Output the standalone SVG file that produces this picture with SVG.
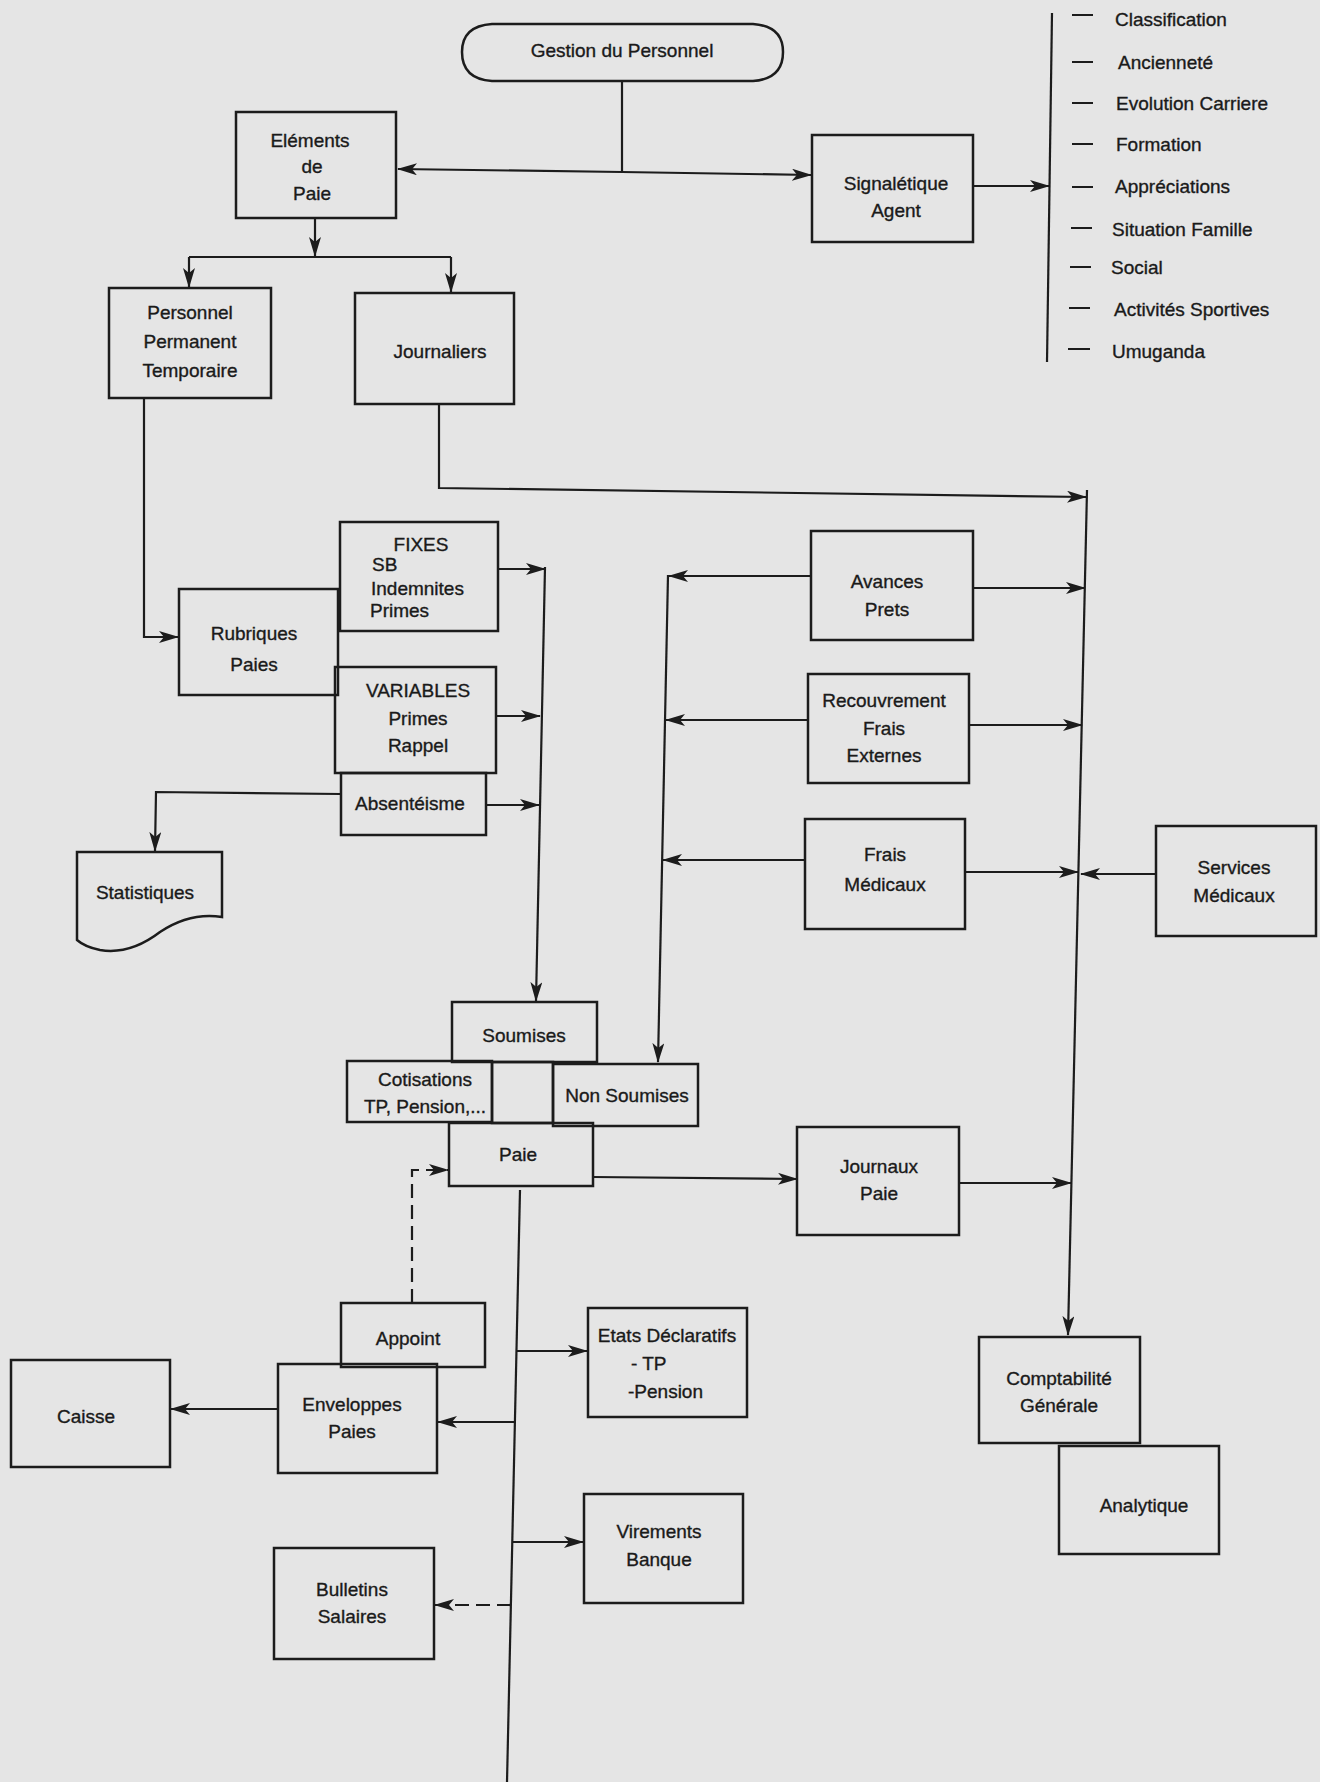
<svg xmlns="http://www.w3.org/2000/svg" width="1320" height="1782" viewBox="0 0 1320 1782">
<defs>
<marker id="ah" markerWidth="20" markerHeight="12" refX="19" refY="6" orient="auto" markerUnits="userSpaceOnUse"><path d="M0,0 L20,6 L0,12 L5,6 Z" fill="#1c1c1c"/></marker>
</defs>
<style>
.b{fill:none;stroke:#1c1c1c;stroke-width:2.5}
.c{fill:none;stroke:#1c1c1c;stroke-width:2.2}
.d{stroke-dasharray:14 7}
text{font-family:"Liberation Sans",Arial,sans-serif;font-size:19px;fill:#1a1a1a;stroke:#1a1a1a;stroke-width:0.35;text-anchor:middle}
.l{text-anchor:start}
</style>
<rect width="1320" height="1782" fill="#e5e5e5"/>

<g id="connectors">
<path class="c" d="M622,81 V172"/>
<path class="c" d="M622,172 L398,169" marker-end="url(#ah)"/>
<path class="c" d="M622,172 L811,175" marker-end="url(#ah)"/>
<path class="c" d="M973,186 L1049,186" marker-end="url(#ah)"/>
<path class="c" d="M315,218 V256" marker-end="url(#ah)"/>
<path class="c" d="M189,257 H451"/>
<path class="c" d="M189,257 V287" marker-end="url(#ah)"/>
<path class="c" d="M451,257 V292" marker-end="url(#ah)"/>
<path class="c" d="M439,404 V488 L1086,497" marker-end="url(#ah)"/>
<path class="c" d="M1087,490 L1068,1335" marker-end="url(#ah)"/>
<path class="c" d="M144,398 V637 H178" marker-end="url(#ah)"/>
<path class="c" d="M498,569 H545" marker-end="url(#ah)"/>
<path class="c" d="M496,716 H540" marker-end="url(#ah)"/>
<path class="c" d="M486,805 H539" marker-end="url(#ah)"/>
<path class="c" d="M545,567 L536,1001" marker-end="url(#ah)"/>
<path class="c" d="M341,794 L156,792 L155,851" marker-end="url(#ah)"/>
<path class="c" d="M811,576 H669" marker-end="url(#ah)"/>
<path class="c" d="M808,720 H666" marker-end="url(#ah)"/>
<path class="c" d="M805,860 H663" marker-end="url(#ah)"/>
<path class="c" d="M668,575 L658,1062" marker-end="url(#ah)"/>
<path class="c" d="M973,588 H1085" marker-end="url(#ah)"/>
<path class="c" d="M969,725 H1082" marker-end="url(#ah)"/>
<path class="c" d="M965,872 H1078" marker-end="url(#ah)"/>
<path class="c" d="M1156,874 H1081" marker-end="url(#ah)"/>
<path class="c" d="M593,1177 L797,1179" marker-end="url(#ah)"/>
<path class="c" d="M959,1183 H1071" marker-end="url(#ah)"/>
<path class="c d" d="M412,1303 V1170 H448" marker-end="url(#ah)"/>
<path class="c" d="M520,1190 L507,1782"/>
<path class="c" d="M516,1351 H587" marker-end="url(#ah)"/>
<path class="c" d="M515,1422 H438" marker-end="url(#ah)"/>
<path class="c" d="M278,1409 H171" marker-end="url(#ah)"/>
<path class="c" d="M512,1542 H583" marker-end="url(#ah)"/>
<path class="c d" d="M511,1605 H435" marker-end="url(#ah)"/>
<path class="c" d="M1052,13 L1047,362"/>
</g>

<g id="gestion">
<path class="b" d="M492,24 H753 Q783,26 783,52 Q783,79 753,81 H492 Q462,79 462,52 Q462,26 492,24 Z"/>
<text x="622" y="57">Gestion du Personnel</text>
</g>
<g id="elements-paie">
<rect class="b" x="236" y="112" width="160" height="106"/>
<text x="310" y="147">Eléments</text><text x="312" y="173">de</text><text x="312" y="200">Paie</text>
</g>
<g id="signaletique">
<rect class="b" x="812" y="135" width="161" height="107"/>
<text x="896" y="190">Signalétique</text><text x="896" y="217">Agent</text>
</g>
<g id="liste-signaletique">
<path class="c" d="M1072,15 H1093 M1072,62 H1093 M1072,103 H1093 M1072,144 H1093 M1072,187 H1093 M1071,228 H1092 M1070,267 H1091 M1069,308 H1090 M1068,349 H1090"/>
<text class="l" x="1115" y="26">Classification</text>
<text class="l" x="1118" y="69">Ancienneté</text>
<text class="l" x="1116" y="110">Evolution Carriere</text>
<text class="l" x="1116" y="151">Formation</text>
<text class="l" x="1115" y="193">Appréciations</text>
<text class="l" x="1112" y="236">Situation Famille</text>
<text class="l" x="1111" y="274">Social</text>
<text class="l" x="1114" y="316">Activités Sportives</text>
<text class="l" x="1112" y="358">Umuganda</text>
</g>
<g id="personnel">
<rect class="b" x="109" y="288" width="162" height="110"/>
<text x="190" y="319">Personnel</text><text x="190" y="348">Permanent</text><text x="190" y="377">Temporaire</text>
</g>
<g id="journaliers">
<rect class="b" x="355" y="293" width="159" height="111"/>
<text x="440" y="358">Journaliers</text>
</g>
<g id="rubriques">
<rect class="b" x="179" y="589" width="159" height="106"/>
<text x="254" y="640">Rubriques</text><text x="254" y="671">Paies</text>
</g>
<g id="fixes">
<rect class="b" x="340" y="522" width="158" height="109"/>
<text x="421" y="551">FIXES</text>
<text class="l" x="372" y="571">SB</text>
<text class="l" x="371" y="595">Indemnites</text>
<text class="l" x="370" y="617">Primes</text>
</g>
<g id="variables">
<rect class="b" x="335" y="667" width="161" height="106"/>
<text x="418" y="697">VARIABLES</text><text x="418" y="725">Primes</text><text x="418" y="752">Rappel</text>
</g>
<g id="absenteisme">
<rect class="b" x="341" y="773" width="145" height="62"/>
<text x="410" y="810">Absentéisme</text>
</g>
<g id="statistiques">
<path class="b" d="M77,852 H222 V917 Q190,912 160,932 Q130,955 100,950 Q85,947 77,940 Z"/>
<text x="145" y="899">Statistiques</text>
</g>
<g id="avances">
<rect class="b" x="811" y="531" width="162" height="109"/>
<text x="887" y="588">Avances</text><text x="887" y="616">Prets</text>
</g>
<g id="recouvrement">
<rect class="b" x="808" y="674" width="161" height="109"/>
<text x="884" y="707">Recouvrement</text><text x="884" y="735">Frais</text><text x="884" y="762">Externes</text>
</g>
<g id="frais-medicaux">
<rect class="b" x="805" y="819" width="160" height="110"/>
<text x="885" y="861">Frais</text><text x="885" y="891">Médicaux</text>
</g>
<g id="services-medicaux">
<rect class="b" x="1156" y="826" width="160" height="110"/>
<text x="1234" y="874">Services</text><text x="1234" y="902">Médicaux</text>
</g>
<g id="soumises">
<rect class="b" x="452" y="1002" width="145" height="60"/>
<text x="524" y="1042">Soumises</text>
</g>
<g id="cotisations">
<rect class="b" x="347" y="1061" width="145" height="61"/>
<text x="425" y="1086">Cotisations</text><text x="425" y="1113">TP, Pension,...</text>
</g>
<g id="case-vide">
<rect class="b" x="492" y="1062" width="61" height="61"/>
</g>
<g id="non-soumises">
<rect class="b" x="553" y="1064" width="145" height="62"/>
<text x="627" y="1102">Non Soumises</text>
</g>
<g id="paie">
<rect class="b" x="449" y="1123" width="144" height="63"/>
<text x="518" y="1161">Paie</text>
</g>
<g id="journaux-paie">
<rect class="b" x="797" y="1127" width="162" height="108"/>
<text x="879" y="1173">Journaux</text><text x="879" y="1200">Paie</text>
</g>
<g id="comptabilite">
<rect class="b" x="979" y="1337" width="161" height="106"/>
<text x="1059" y="1385">Comptabilité</text><text x="1059" y="1412">Générale</text>
</g>
<g id="analytique">
<rect class="b" x="1059" y="1446" width="160" height="108"/>
<text x="1144" y="1512">Analytique</text>
</g>
<g id="etats-declaratifs">
<rect class="b" x="588" y="1308" width="159" height="109"/>
<text x="667" y="1342">Etats Déclaratifs</text>
<text class="l" x="631" y="1370">- TP</text>
<text class="l" x="628" y="1398">-Pension</text>
</g>
<g id="appoint">
<rect class="b" x="341" y="1303" width="144" height="64"/>
<text x="408" y="1345">Appoint</text>
</g>
<g id="enveloppes">
<rect class="b" x="278" y="1364" width="159" height="109"/>
<text x="352" y="1411">Enveloppes</text><text x="352" y="1438">Paies</text>
</g>
<g id="caisse">
<rect class="b" x="11" y="1360" width="159" height="107"/>
<text x="86" y="1423">Caisse</text>
</g>
<g id="virements">
<rect class="b" x="584" y="1494" width="159" height="109"/>
<text x="659" y="1538">Virements</text><text x="659" y="1566">Banque</text>
</g>
<g id="bulletins">
<rect class="b" x="274" y="1548" width="160" height="111"/>
<text x="352" y="1596">Bulletins</text><text x="352" y="1623">Salaires</text>
</g>
</svg>
